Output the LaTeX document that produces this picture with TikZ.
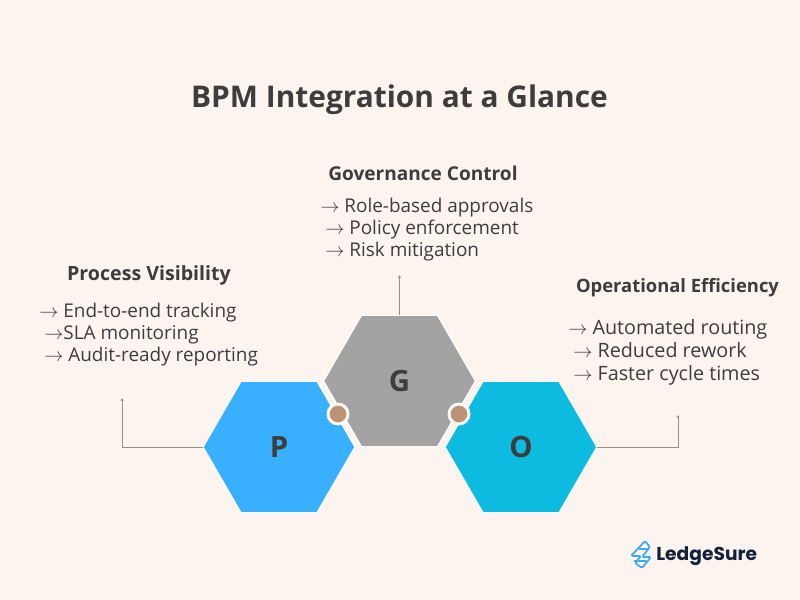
\documentclass[tikz,border=0pt]{standalone}
\usepackage{fontspec}
\setmainfont{Open Sans}
\newfontfamily\brandfont{Poppins}
\usetikzlibrary{shapes.geometric,arrows.meta}
\definecolor{paper}{HTML}{FCF4EF}
\definecolor{ink}{HTML}{3D3D3D}
\definecolor{wire}{HTML}{A08C80}
\definecolor{dotbrown}{HTML}{BD9273}
\definecolor{navy}{HTML}{14213D}
\definecolor{logoblue}{HTML}{3FA9F5}
\newcommand{\tto}{$\rightarrow$}
\tikzset{
  hexa/.style={regular polygon,regular polygon sides=6,minimum size=114pt,inner sep=0pt,outer sep=0pt,
    draw=white!70!paper,line width=1pt,text=ink,font=\bfseries\fontsize{22}{22}\selectfont},
  wirey/.style={wire,line width=.72pt,-{Latex[length=2pt,width=2.6pt]}},
  joint/.style={circle,fill=dotbrown,draw=white!60!paper,line width=2.2pt,minimum size=15pt,inner sep=0pt},
  head/.style={anchor=base,font=\bfseries\fontsize{#1}{16}\selectfont,text=ink,inner sep=0pt},
  item/.style={anchor=base west,font=\fontsize{#1}{16}\selectfont,text=ink,inner sep=0pt},
  item/.default=14.2,
}
\begin{document}
\begin{tikzpicture}[x=.75pt,y=-.75pt]
    \fill[paper] (0,0) rectangle (800,600);
    \useasboundingbox (0,0) rectangle (800,600);

    \node (title) [anchor=base,font=\bfseries\fontsize{22.4}{26}\selectfont,text=ink,inner sep=0pt] at (399.5,107.5) {BPM Integration at a Glance};

    % hexagons
    \node (ghex) [hexa,fill=black!36] at (399.5,381) {G};
    \node (phex) [hexa,fill={rgb,255:red,56;green,176;blue,255}] at (279,447) {P};
    \node (ohex) [hexa,fill={rgb,255:red,13;green,187;blue,224}] at (521,447) {O};
    \node (pg) [joint] at (338,414) {};
    \node (go) [joint] at (459,414) {};

    % leaders
    \coordinate (ptip) at (122,398);
    \coordinate (gtip) at (399.5,275);
    \coordinate (otip) at (678,415);
    \draw[wirey] (phex.west) -| (ptip);
    \draw[wirey] (ghex.north) -- (gtip);
    \draw[wirey] (ohex.east) -| (otip);

    % governance
    \node (ghead) [head=14.3] at (423,180) {Governance Control};
    \node (g1) [item] at (320,212.5) {\tto\ Role-based approvals};
    \node (g2) [item] at (325,234.5) {\tto\ Policy enforcement};
    \node (g3) [item] at (325,256) {\tto\ Risk mitigation};

    % visibility
    \node (phead) [head=14.7] at (149,280) {Process Visibility};
    \node (p1) [item] at (39,317.5) {\tto\ End-to-end tracking};
    \node (p2) [item] at (44,339.5) {\tto SLA monitoring};
    \node (p3) [item] at (44,361.5) {\tto\ Audit-ready reporting};

    % efficiency
    \node (ohead) [head=13.8] at (677.5,292.5) {Operational Efficiency};
    \node (o1) [item=14.8] at (568,334) {\tto\ Automated routing};
    \node (o2) [item=14.8] at (573,357) {\tto\ Reduced rework};
    \node (o3) [item=14.8] at (573,380.5) {\tto\ Faster cycle times};

    % logo
    \draw[logoblue,line width=1.3pt,line join=round,rounded corners=1pt]
      (645,541) -- (631,556) -- (641,556) -- (635,563) -- (642,568) -- (651,557) -- (642,557) -- (650,547) -- cycle
      (639,549) -- (647,549)
      (634,561) -- (646,561);
    \node (brand) [font=\brandfont\bfseries\fontsize{14}{16}\selectfont,text=navy,inner sep=0pt,anchor=west] at (656,556.5) {LedgeSure};
\end{tikzpicture}
\end{document}
